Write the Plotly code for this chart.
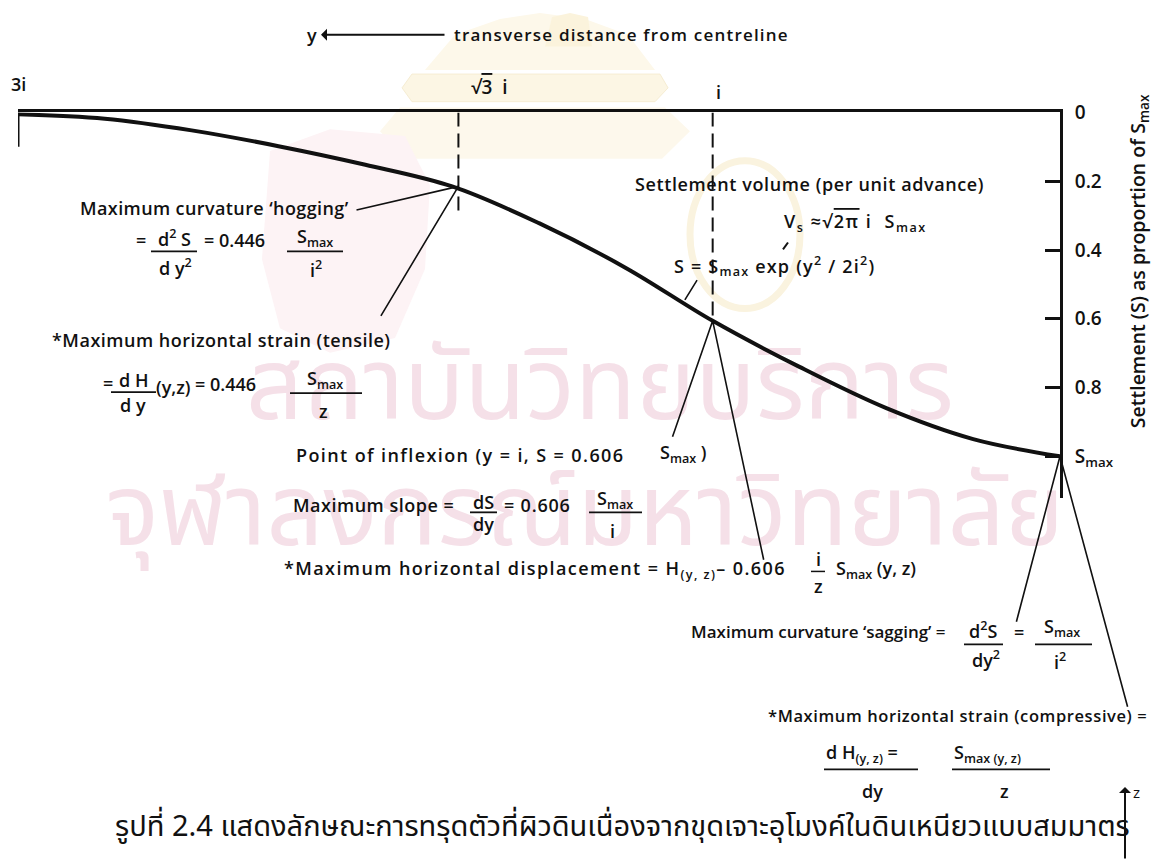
import plotly.graph_objects as go

W, H = 1153, 860
INK = "#111111"
FONT = "Open Sans"
THAI = "Noto Sans Thai, Loma, Garuda, Norasi, Kinnari, Laksaman, Waree, Umpush, Sawasdee, sans-serif"

# Settlement trough: transverse distance (multiples of i) and settlement as a proportion of Smax
dist_i = [3.0, 2.75, 2.5, 2.25, 2.0, 1.75, 1.5, 1.25, 1.0, 0.75, 0.5, 0.25, 0.0]
settle = [0.005, 0.018, 0.052, 0.098, 0.152, 0.215, 0.322, 0.452, 0.606, 0.74, 0.86, 0.95, 1.0]

# Settlement axis ticks
s_ticks = [0, 0.2, 0.4, 0.6, 0.8, 1.0]
s_tick_text = ["0", "0.2", "0.4", "0.6", "0.8", "S<sub>max</sub>"]

# Marked distances along the surface
hog_d, hog_s = 1.732, 0.215      # maximum hogging curvature at sqrt(3) i
infl_d, infl_s = 1.0, 0.606      # point of inflexion at i
cl_d, cl_s = 0.0, 1.0            # centreline, maximum settlement

# Plot area placement (pixels)
PX_L, PX_R = 18, 1060
PY_T, PY_B = 101, 492
S_BOTTOM = 1.12


def px(x):
    return x / W


def py(y):
    return 1 - y / H


annotations = []
shapes = []


def txt(s, x, y, size=18, anchor="left", weight=600, color=INK, angle=0, family=FONT, ls=0):
    if ls:
        s = f"<span style='letter-spacing:{ls}px'>{s}</span>"
    annotations.append(dict(
        text=s, x=px(x), y=py(y), xref="paper", yref="paper",
        xanchor=anchor, yanchor="middle", showarrow=False, textangle=angle,
        font=dict(family=family, size=size, color=color, weight=weight)))


def bar(x0, x1, y, width=1.8):
    shapes.append(dict(type="line", xref="paper", yref="paper",
                       x0=px(x0), x1=px(x1), y0=py(y), y1=py(y),
                       line=dict(color=INK, width=width)))


def seg(x0, y0, x1, y1, width=1.6, color=INK):
    shapes.append(dict(type="line", xref="paper", yref="paper",
                       x0=px(x0), x1=px(x1), y0=py(y0), y1=py(y1),
                       line=dict(color=color, width=width)))


def leader(d, s, tail_x, tail_y):
    """Thin line from a pixel tail to a point on the settlement axes."""
    hx = PX_L + (3.0 - d) / 3.0 * (PX_R - PX_L)
    hy = PY_T + s / S_BOTTOM * (PY_B - PY_T)
    annotations.append(dict(
        text="", x=d, y=s, xref="x", yref="y", showarrow=True,
        ax=tail_x - hx, ay=tail_y - hy, axref="pixel", ayref="pixel",
        arrowhead=0, arrowwidth=1.6, arrowcolor=INK, standoff=0, startstandoff=0))


def blob(points, fill, line=None, lw=0):
    path = "M " + " L ".join(f"{px(x):.4f},{py(y):.4f}" for x, y in points) + " Z"
    shapes.append(dict(type="path", xref="paper", yref="paper", path=path,
                       fillcolor=fill, layer="below",
                       line=dict(color=line or fill, width=lw)))


# ---- faint institutional emblem and watermark lettering behind the figure ----
blob([(425, 58), (455, 22), (500, 6), (540, 0), (585, 6), (628, 22), (655, 58)], "#fdf8ea")
blob([(545, 34), (552, 4), (570, 0), (588, 4), (592, 34)], "#fbf3dc")
blob([(412, 62), (660, 62), (668, 76), (655, 90), (412, 90), (402, 76)], "#fcf6e4", "#f6edd3", 1)
blob([(400, 96), (665, 96), (690, 120), (662, 148), (405, 148), (380, 120)], "#fdf8ec")
blob([(270, 140), (330, 118), (405, 125), (430, 175), (425, 260), (395, 330),
      (330, 345), (280, 320), (262, 250)], "#fdf3f5")
shapes.append(dict(type="circle", xref="paper", yref="paper",
                   x0=px(690), x1=px(800), y0=py(150), y1=py(300),
                   line=dict(color="#faf3df", width=7), layer="below"))

for label, x0, x1, y0, y1, size in [("สถาบันวิทยบริการ", 200, 1000, 345, 430, 100),
                                    ("จุฬาลงกรณ์มหาวิทยาลัย", 90, 1080, 470, 560, 100)]:
    shapes.append(dict(type="rect", xref="paper", yref="paper",
                       x0=px(x0), x1=px(x1), y0=py(y1), y1=py(y0),
                       line=dict(width=0), fillcolor="rgba(0,0,0,0)", layer="below",
                       label=dict(text=label, textposition="middle center",
                                  font=dict(family=THAI, size=size, color="#f5e0e8"))))

# ---- the settlement curve ----
fig = go.Figure()
fig.add_trace(go.Scatter(x=dist_i, y=settle, mode="lines",
                         line=dict(color=INK, width=4, shape="spline", smoothing=1.0),
                         hoverinfo="skip", showlegend=False))

# dashed verticals at sqrt(3) i and i
shapes.append(dict(type="line", xref="x", yref="y", x0=hog_d, x1=hog_d, y0=0, y1=0.285,
                   line=dict(color=INK, width=2, dash="14px,7px")))
shapes.append(dict(type="line", xref="x", yref="y", x0=infl_d, x1=infl_d, y0=0, y1=infl_s + 0.01,
                   line=dict(color=INK, width=2, dash="14px,7px")))
# short stub at the far edge of the trough
shapes.append(dict(type="line", xref="x", yref="y", x0=3.0, x1=3.0, y0=0, y1=0.1,
                   line=dict(color=INK, width=3)))

# ---- distance labels along the surface ----
annotations.append(dict(text="3i", x=3.0, y=py(72), xref="x", yref="paper", showarrow=False,
                        xanchor="center", yanchor="middle",
                        font=dict(family=FONT, size=18, color=INK, weight=600)))
annotations.append(dict(text="√<span style='text-decoration:overline'>3</span>  i", x=hog_d, y=py(75),
                        xref="x", yref="paper", showarrow=False, xanchor="left", xshift=11,
                        yanchor="middle", font=dict(family=FONT, size=19, color=INK, weight=600)))
annotations.append(dict(text="i", x=infl_d, y=py(80), xref="x", yref="paper", showarrow=False,
                        xanchor="center", yanchor="middle", xshift=6,
                        font=dict(family=FONT, size=18, color=INK, weight=600)))

# ---- header: direction of y ----
txt("y", 312, 22, anchor="center")
annotations.append(dict(text="", x=px(321), y=py(22), xref="paper", yref="paper",
                        ax=125, ay=0, axref="pixel", ayref="pixel", showarrow=True,
                        arrowhead=1, arrowsize=1, arrowwidth=2, arrowcolor=INK))
txt("transverse distance from centreline", 452, 22, size=17, ls=1.2)

# ---- hogging ----
txt("Maximum curvature ‘hogging’", 78, 198, ls=0.4)
leader(hog_d, hog_s, 355, 200)
txt("=", 134, 230)
txt("d<sup>2</sup> S", 174, 228, anchor="center")
bar(151, 197, 242)
txt("d y<sup>2</sup>", 175, 258, anchor="center")
txt("= 0.446", 202, 230)
txt("S<sub>max</sub>", 315, 228, anchor="center")
bar(287, 343, 242)
txt("i<sup>2</sup>", 316, 260, anchor="center")

# ---- tensile strain ----
leader(hog_d, hog_s, 380, 307)
txt("*Maximum horizontal strain (tensile)", 50, 332, ls=0.5)
txt("=", 101, 376)
txt("d H", 133, 373, anchor="center")
bar(111, 156, 385)
txt("d y", 133, 398, anchor="center")
txt("(y,z)", 173, 380, anchor="center")
txt("= 0.446", 193, 377)
txt("S<sub>max</sub>", 325, 372, anchor="center")
bar(290, 362, 386)
txt("z", 323, 404, anchor="center")

# ---- settlement volume and trough equation ----
txt("Settlement volume (per unit advance)", 633, 174, ls=0.6)
txt("V<sub>s</sub> ≈√<span style='text-decoration:overline'>2π</span> i  S<sub>max</sub>", 782, 213, ls=1.5)
seg(783, 240, 788, 233, width=2)
txt("S = S<sub>max</sub> exp (y<sup>2</sup> / 2i<sup>2</sup>)", 672, 257, ls=1.2)
leader(1.08, 0.545, 698, 270)

# ---- inflexion, slope, displacement ----
leader(infl_d, infl_s, 672, 430)
leader(infl_d, infl_s, 764, 553)
txt("Point of inflexion (y = i, S = 0.606", 294, 449, ls=1.4)
txt("S<sub>max</sub> )", 658, 447)
txt("Maximum slope =", 291, 500, ls=0.5)
txt("dS", 483, 497, anchor="center")
bar(470, 497, 507)
txt("dy", 483, 519, anchor="center")
txt("= 0.606", 502, 500, ls=0.8)
txt("S<sub>max</sub>", 615, 494, anchor="center")
bar(589, 642, 507)
txt("i", 613, 526, anchor="center")
txt("*Maximum horizontal displacement = H<sub>(y, z)</sub>– 0.606", 282, 565, ls=1.4)
txt("i", 818, 554, anchor="center")
bar(811, 825, 567, width=1.5)
txt("z", 818, 582, anchor="center")
txt("S<sub>max</sub> (y, z)", 834, 565)

# ---- sagging and compressive strain ----
leader(cl_d, cl_s, 1016, 617)
leader(cl_d, cl_s, 1128, 702)
txt("Maximum curvature ‘sagging’ =", 689, 628, size=17)
txt("d<sup>2</sup>S", 983, 626, anchor="center")
bar(964, 1003, 641)
txt("dy<sup>2</sup>", 986, 656, anchor="center")
txt("=", 1019, 628, anchor="center")
txt("S<sub>max</sub>", 1062, 624, anchor="center")
bar(1035, 1092, 641)
txt("i<sup>2</sup>", 1060, 658, anchor="center")
txt("*Maximum horizontal strain (compressive) =", 766, 713, size=16.5, ls=0.6)
txt("d H<sub>(y, z)</sub> =", 824, 752)
bar(824, 918, 768)
txt("dy", 872, 790, anchor="center")
txt("S<sub>max (y, z)</sub>", 952, 752)
bar(952, 1050, 768)
txt("z", 1004, 790, anchor="center")

# ---- depth direction ----
annotations.append(dict(text="", x=px(1125), y=py(786), xref="paper", yref="paper",
                        ax=0, ay=74, axref="pixel", ayref="pixel", showarrow=True,
                        arrowhead=1, arrowsize=1, arrowwidth=2, arrowcolor=INK))
txt("z", 1131, 791, size=15, weight=400)

# ---- right-hand axis title ----
txt("Settlement (S) as proportion of S<sub>max</sub>", 1138, 252, size=19.5, anchor="center", angle=-90)

# ---- caption ----
txt("รูปที่ 2.4 แสดงลักษณะการทรุดตัวที่ผิวดินเนื่องจากขุดเจาะอุโมงค์ในดินเหนียวแบบสมมาตร",
    622, 826, size=29, anchor="center", weight=400, family=THAI)

fig.update_layout(
    width=W, height=H,
    margin=dict(l=0, r=0, t=0, b=0),
    paper_bgcolor="white", plot_bgcolor="rgba(0,0,0,0)",
    showlegend=False,
    xaxis=dict(domain=[px(PX_L), px(PX_R)], range=[3.0, 0.0], side="top",
               showline=True, linecolor=INK, linewidth=3, showgrid=False, zeroline=False,
               showticklabels=False, ticks=""),
    yaxis=dict(domain=[py(PY_B), py(PY_T)], range=[S_BOTTOM, 0.0], side="right",
               showline=True, linecolor=INK, linewidth=3, showgrid=False, zeroline=False,
               tickvals=s_ticks, ticktext=s_tick_text, ticks="inside", ticklen=15,
               tickwidth=2.5, tickcolor=INK, ticklabelstandoff=8,
               tickfont=dict(family=FONT, size=19, color=INK, weight=600)),
    annotations=annotations,
    shapes=shapes,
)

fig.write_html("out.html", config={"displayModeBar": False})
